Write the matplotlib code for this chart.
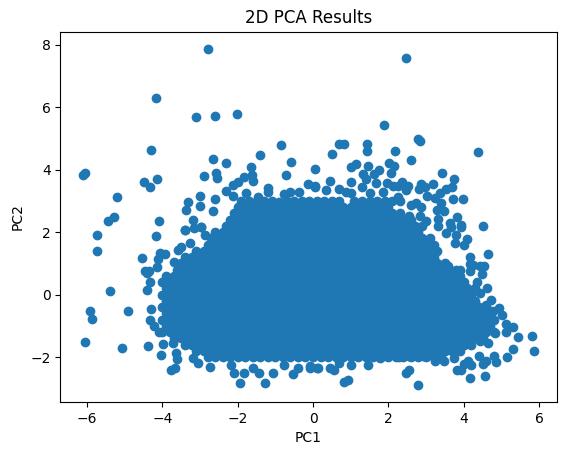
import matplotlib
matplotlib.use("Agg")
import matplotlib.pyplot as plt

# Scores along the first two principal components: sparse outer observations
outer_pc1 = [-2.79,-4.17,-3.11,-2.61,-2.02,-0.855,-1.41,-4.31,-2.66,-2.32,-0.59,0.05,-6.06,-6.11,-4.15,-4.49,-4.33,-2.90,-2.57,-2.54,-0.72,-1.65,-5.21,-5.29,-5.45,-4.10,-3.33,-3.38,-3.01,-3.01,-2.61,-2.66,-3.19,-2.98,-3.40,-2.32,-2.13,-1.98,-1.84,-1.61,-1.60,-1.20,-1.20,-1.77,-1.45,-0.76,-0.62,-0.38,-0.14,0.05,-0.89,-2.13,
    -5.73,-5.73,-4.17,-5.40,-5.93,-5.87,-4.92,-6.06,-5.08,-4.39,-4.04,-4.55,-4.07,-3.94,-4.12,-4.45,-4.36,-4.40,-4.15,-4.34,-4.40,-4.30,-4.33,-4.21,-4.08,-3.99,-3.72,-3.64,-3.62,-3.67,-3.78,-3.18,-3.06,-2.74,-2.18,-2.10,-1.93,-1.82,-1.60,-1.44,-1.28,-1.07,-0.78,-0.54,-0.40,-0.07,0.10,-3.50,-3.26,-3.59,-3.40,-3.15,-2.97,-2.88,-3.68,
    4.50,4.64,4.09,4.02,3.76,3.80,3.54,3.94,3.67,4.16,4.18,4.26,4.53,4.42,4.49,4.16,3.89,3.58,4.35,4.62,4.44,4.73,4.60,4.95,5.01,4.78,5.13,5.31,5.13,5.45,5.81,5.87,5.31,5.15,4.80,4.87,4.60,4.51,4.57,4.16,4.20,4.11,4.02,3.94,3.82,4.64,4.42,4.40,4.82,3.73,3.49,3.25,2.92,2.54,2.28,2.08,1.77,1.46,1.01,0.57,0.44,0.13,-0.07,0.70,0.92,0.82,2.54,2.48,2.80,
    2.47,1.88,2.78,2.85,4.38,0.69,0.82,1.43,1.43,0.50,2.17,2.60,1.00,1.14,1.46,2.01,2.15,1.75,1.32,1.63,2.08,1.41,1.68,3.42,3.74,3.18,3.70,3.54,2.87,2.96,2.81,2.36,2.52,2.48,2.25,1.96,2.12,0.44,1.00,0.69,1.30,0.04,0.88,1.01,0.35,1.50,1.85,2.25,3.02,3.36,3.23,3.71,3.99,3.39,2.74,2.61,2.87,3.29,3.49,3.82,3.63,3.93,3.01,3.33,3.33,2.83,2.56]
outer_pc2 = [7.88,6.28,5.68,5.71,5.77,4.78,4.47,4.62,4.33,4.21,4.24,4.02,3.89,3.82,3.70,3.60,3.44,3.79,3.89,3.72,3.82,4.08,3.12,2.48,2.35,2.35,2.96,2.71,3.15,2.84,3.06,2.67,2.39,2.16,2.08,3.31,3.51,3.62,3.76,3.82,3.63,3.41,3.30,3.25,3.12,3.22,3.28,3.28,3.54,3.46,2.95,3.15,
    1.91,1.40,1.87,0.12,-0.52,-0.78,-0.52,-1.51,-1.70,-1.64,-1.93,1.17,1.33,1.30,1.14,0.77,0.75,0.69,0.88,0.41,0.15,-0.46,-0.82,-0.99,-1.19,-1.58,-1.54,-1.86,-2.05,-2.34,-2.40,-2.02,-2.18,-2.31,-2.27,-2.50,-2.84,-2.50,-2.34,-2.50,-2.82,-2.50,-2.24,-2.53,-2.36,-2.29,-2.36,1.54,1.65,1.44,2.07,2.13,2.18,1.92,1.06,
    2.21,1.30,1.79,1.60,1.65,1.92,1.97,2.18,2.18,1.22,0.98,0.96,0.92,0.91,0.66,0.75,0.80,0.91,0.41,0.21,0.05,-0.16,-0.32,-0.43,-0.64,-0.53,-0.94,-1.04,-1.19,-1.36,-1.32,-1.80,-1.74,-1.99,-1.95,-2.15,-2.13,-2.21,-2.60,-2.66,-2.27,-2.13,-2.21,-2.41,-2.40,-1.54,-1.49,-1.95,-1.23,-2.02,-2.13,-2.13,-1.95,-1.95,-2.00,-1.91,-2.02,-2.24,-2.27,-2.40,-2.34,-2.36,-2.34,-2.18,-2.72,-2.79,-2.43,-2.50,-2.90,
    7.59,5.42,4.99,4.93,4.56,4.81,4.81,4.81,4.61,4.49,4.59,4.30,4.08,4.18,4.13,4.21,4.11,3.98,3.86,3.86,3.89,3.70,3.57,3.89,3.70,3.54,3.43,3.37,3.54,3.46,3.37,3.60,3.49,3.36,3.49,3.57,3.49,3.63,3.60,3.37,3.43,3.49,3.30,3.25,3.36,3.25,3.30,3.14,3.17,3.25,3.09,3.06,3.06,2.93,2.93,2.88,2.82,2.72,2.67,2.47,2.29,2.22,2.36,2.42,2.21,2.52,2.52]

# Dense central mass, listed band by band along PC2
dense_pc2 = [-2.0,-1.8,-1.6,-1.4,-1.2,-1.0,-0.8,-0.6,-0.4,-0.2,0.0,0.2,0.4,0.6,0.8,1.0,1.2,1.4,1.6,1.8,2.0,2.2,2.4,2.6,2.8,3.0]
dense_pc1 = [
    [-2.8,-2.6,-2.4,-2.2,-2.0,-1.8,-1.6,-1.4,-1.2,-1.0,-0.8,-0.6,-0.4,-0.2,0.0,0.2,0.4,0.6,0.8,1.0,1.2,1.4,1.6,1.8,2.0,2.2,2.4,2.6,2.8,3.0,3.2,3.4],
    [-3.1,-2.9,-2.7,-2.5,-2.3,-2.1,-1.9,-1.7,-1.5,-1.3,-1.1,-0.9,-0.7,-0.5,-0.3,-0.1,0.1,0.3,0.5,0.7,0.9,1.1,1.3,1.5,1.7,1.9,2.1,2.3,2.5,2.7,2.9,3.1,3.3,3.5,3.7,3.9],
    [-3.4,-3.2,-3.0,-2.8,-2.6,-2.4,-2.2,-2.0,-1.8,-1.6,-1.4,-1.2,-1.0,-0.8,-0.6,-0.4,-0.2,0.0,0.2,0.4,0.6,0.8,1.0,1.2,1.4,1.6,1.8,2.0,2.2,2.4,2.6,2.8,3.0,3.2,3.4,3.6,3.8,4.0,4.2],
    [-3.7,-3.5,-3.3,-3.1,-2.9,-2.7,-2.5,-2.3,-2.1,-1.9,-1.7,-1.5,-1.3,-1.1,-0.9,-0.7,-0.5,-0.3,-0.1,0.1,0.3,0.5,0.7,0.9,1.1,1.3,1.5,1.7,1.9,2.1,2.3,2.5,2.7,2.9,3.1,3.3,3.5,3.7,3.9,4.1,4.3,4.5],
    [-4.0,-3.8,-3.6,-3.4,-3.2,-3.0,-2.8,-2.6,-2.4,-2.2,-2.0,-1.8,-1.6,-1.4,-1.2,-1.0,-0.8,-0.6,-0.4,-0.2,0.0,0.2,0.4,0.6,0.8,1.0,1.2,1.4,1.6,1.8,2.0,2.2,2.4,2.6,2.8,3.0,3.2,3.4,3.6,3.8,4.0,4.2,4.4,4.6,4.8],
    [-3.9,-3.7,-3.5,-3.3,-3.1,-2.9,-2.7,-2.5,-2.3,-2.1,-1.9,-1.7,-1.5,-1.3,-1.1,-0.9,-0.7,-0.5,-0.3,-0.1,0.1,0.3,0.5,0.7,0.9,1.1,1.3,1.5,1.7,1.9,2.1,2.3,2.5,2.7,2.9,3.1,3.3,3.5,3.7,3.9,4.1,4.3,4.5,4.7],
    [-4.0,-3.8,-3.6,-3.4,-3.2,-3.0,-2.8,-2.6,-2.4,-2.2,-2.0,-1.8,-1.6,-1.4,-1.2,-1.0,-0.8,-0.6,-0.4,-0.2,0.0,0.2,0.4,0.6,0.8,1.0,1.2,1.4,1.6,1.8,2.0,2.2,2.4,2.6,2.8,3.0,3.2,3.4,3.6,3.8,4.0,4.2,4.4,4.6,4.8],
    [-3.9,-3.7,-3.5,-3.3,-3.1,-2.9,-2.7,-2.5,-2.3,-2.1,-1.9,-1.7,-1.5,-1.3,-1.1,-0.9,-0.7,-0.5,-0.3,-0.1,0.1,0.3,0.5,0.7,0.9,1.1,1.3,1.5,1.7,1.9,2.1,2.3,2.5,2.7,2.9,3.1,3.3,3.5,3.7,3.9,4.1,4.3,4.5,4.7],
    [-4.0,-3.8,-3.6,-3.4,-3.2,-3.0,-2.8,-2.6,-2.4,-2.2,-2.0,-1.8,-1.6,-1.4,-1.2,-1.0,-0.8,-0.6,-0.4,-0.2,0.0,0.2,0.4,0.6,0.8,1.0,1.2,1.4,1.6,1.8,2.0,2.2,2.4,2.6,2.8,3.0,3.2,3.4,3.6,3.8,4.0,4.2,4.4,4.6],
    [-3.9,-3.7,-3.5,-3.3,-3.1,-2.9,-2.7,-2.5,-2.3,-2.1,-1.9,-1.7,-1.5,-1.3,-1.1,-0.9,-0.7,-0.5,-0.3,-0.1,0.1,0.3,0.5,0.7,0.9,1.1,1.3,1.5,1.7,1.9,2.1,2.3,2.5,2.7,2.9,3.1,3.3,3.5,3.7,3.9,4.1,4.3],
    [-4.0,-3.8,-3.6,-3.4,-3.2,-3.0,-2.8,-2.6,-2.4,-2.2,-2.0,-1.8,-1.6,-1.4,-1.2,-1.0,-0.8,-0.6,-0.4,-0.2,0.0,0.2,0.4,0.6,0.8,1.0,1.2,1.4,1.6,1.8,2.0,2.2,2.4,2.6,2.8,3.0,3.2,3.4,3.6,3.8,4.0,4.2],
    [-3.9,-3.7,-3.5,-3.3,-3.1,-2.9,-2.7,-2.5,-2.3,-2.1,-1.9,-1.7,-1.5,-1.3,-1.1,-0.9,-0.7,-0.5,-0.3,-0.1,0.1,0.3,0.5,0.7,0.9,1.1,1.3,1.5,1.7,1.9,2.1,2.3,2.5,2.7,2.9,3.1,3.3,3.5,3.7,3.9,4.1,4.3],
    [-4.0,-3.8,-3.6,-3.4,-3.2,-3.0,-2.8,-2.6,-2.4,-2.2,-2.0,-1.8,-1.6,-1.4,-1.2,-1.0,-0.8,-0.6,-0.4,-0.2,0.0,0.2,0.4,0.6,0.8,1.0,1.2,1.4,1.6,1.8,2.0,2.2,2.4,2.6,2.8,3.0,3.2,3.4,3.6,3.8,4.0],
    [-3.9,-3.7,-3.5,-3.3,-3.1,-2.9,-2.7,-2.5,-2.3,-2.1,-1.9,-1.7,-1.5,-1.3,-1.1,-0.9,-0.7,-0.5,-0.3,-0.1,0.1,0.3,0.5,0.7,0.9,1.1,1.3,1.5,1.7,1.9,2.1,2.3,2.5,2.7,2.9,3.1,3.3,3.5,3.7,3.9],
    [-3.6,-3.4,-3.2,-3.0,-2.8,-2.6,-2.4,-2.2,-2.0,-1.8,-1.6,-1.4,-1.2,-1.0,-0.8,-0.6,-0.4,-0.2,0.0,0.2,0.4,0.6,0.8,1.0,1.2,1.4,1.6,1.8,2.0,2.2,2.4,2.6,2.8,3.0,3.2,3.4,3.6,3.8],
    [-3.5,-3.3,-3.1,-2.9,-2.7,-2.5,-2.3,-2.1,-1.9,-1.7,-1.5,-1.3,-1.1,-0.9,-0.7,-0.5,-0.3,-0.1,0.1,0.3,0.5,0.7,0.9,1.1,1.3,1.5,1.7,1.9,2.1,2.3,2.5,2.7,2.9,3.1,3.3,3.5],
    [-3.4,-3.2,-3.0,-2.8,-2.6,-2.4,-2.2,-2.0,-1.8,-1.6,-1.4,-1.2,-1.0,-0.8,-0.6,-0.4,-0.2,0.0,0.2,0.4,0.6,0.8,1.0,1.2,1.4,1.6,1.8,2.0,2.2,2.4,2.6,2.8,3.0,3.2],
    [-3.1,-2.9,-2.7,-2.5,-2.3,-2.1,-1.9,-1.7,-1.5,-1.3,-1.1,-0.9,-0.7,-0.5,-0.3,-0.1,0.1,0.3,0.5,0.7,0.9,1.1,1.3,1.5,1.7,1.9,2.1,2.3,2.5,2.7,2.9,3.1,3.3],
    [-2.8,-2.6,-2.4,-2.2,-2.0,-1.8,-1.6,-1.4,-1.2,-1.0,-0.8,-0.6,-0.4,-0.2,0.0,0.2,0.4,0.6,0.8,1.0,1.2,1.4,1.6,1.8,2.0,2.2,2.4,2.6,2.8,3.0,3.2],
    [-2.7,-2.5,-2.3,-2.1,-1.9,-1.7,-1.5,-1.3,-1.1,-0.9,-0.7,-0.5,-0.3,-0.1,0.1,0.3,0.5,0.7,0.9,1.1,1.3,1.5,1.7,1.9,2.1,2.3,2.5,2.7,2.9,3.1],
    [-2.6,-2.4,-2.2,-2.0,-1.8,-1.6,-1.4,-1.2,-1.0,-0.8,-0.6,-0.4,-0.2,0.0,0.2,0.4,0.6,0.8,1.0,1.2,1.4,1.6,1.8,2.0,2.2,2.4,2.6,2.8],
    [-2.3,-2.1,-1.9,-1.7,-1.5,-1.3,-1.1,-0.9,-0.7,-0.5,-0.3,-0.1,0.1,0.3,0.5,0.7,0.9,1.1,1.3,1.5,1.7,1.9,2.1,2.3,2.5,2.7,2.9],
    [-2.2,-2.0,-1.8,-1.6,-1.4,-1.2,-1.0,-0.8,-0.6,-0.4,-0.2,0.0,0.2,0.4,0.6,0.8,1.0,1.2,1.4,1.6,1.8,2.0,2.2,2.4,2.6],
    [-2.1,-1.9,-1.7,-1.5,-1.3,-1.1,-0.9,-0.7,-0.5,-0.3,-0.1,0.1,0.3,0.5,0.7,0.9,1.1,1.3,1.5,1.7,1.9,2.1,2.3],
    [-2.0,-1.8,-1.6,-1.4,-1.2,-1.0,-0.8,-0.6,-0.4,-0.2,0.0,0.2,0.4,0.6,0.8,1.0,1.2,1.4,1.6,1.8,2.0],
    [-1.9,-1.7,-1.5,-1.3,-1.1,-0.7,-0.5,-0.3,-0.1,0.1,0.3,0.5,0.7,1.1,1.3,1.5,1.7,1.9,2.1,2.3],
]

pc1 = list(outer_pc1)
pc2 = list(outer_pc2)
for level, band in zip(dense_pc2, dense_pc1):
    pc1.extend(band)
    pc2.extend([level] * len(band))

fig = plt.figure(figsize=(5.65, 4.55), dpi=100)
ax = fig.add_axes([60.3 / 565, (455 - 402) / 455, (556.7 - 60.3) / 565, (402 - 31.7) / 455])
ax.scatter(pc1, pc2)
ax.set_title("2D PCA Results")
ax.set_xlabel("PC1")
ax.set_ylabel("PC2")
fig.savefig("out.png", dpi=100)
